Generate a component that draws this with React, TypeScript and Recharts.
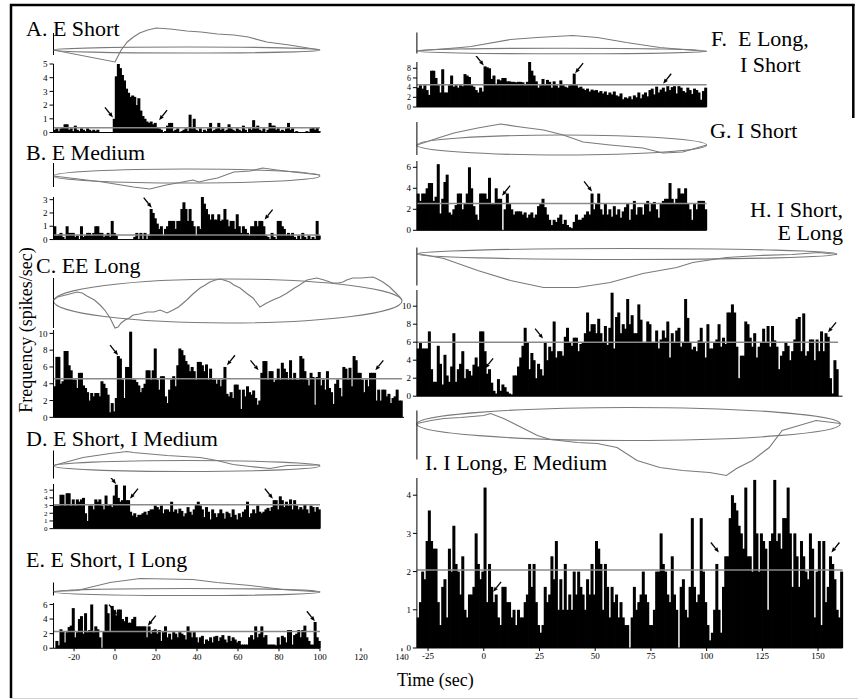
import React from 'react';
import { ComposedChart, Line, Bar, XAxis, YAxis, ReferenceLine, ReferenceArea, ReferenceDot } from 'recharts';

const SERIF = "'Liberation Serif', 'Times New Roman', Times, serif";
const START = -30;

// ---------- tick labels ----------
const LEFT_TICKS_SHORT = [-20, 0, 20, 40, 60, 80, 100];
const LEFT_TICKS_LONG = [-20, 0, 20, 40, 60, 80, 100, 120, 140];
const RIGHT_TICKS_SHORT = [-25, 0, 25, 50, 75, 100];
const RIGHT_TICKS_LONG = [-25, 0, 25, 50, 75, 100, 125, 150];

// ---------- histograms (1 s bins starting at -30 s) ----------
const A_HIST = [
  0.2,0.3,0.1,0.3,0.4,0.6,0.6,0.2,0.3,0.1,0.5,0.2,0.1,0.3,0.2,0.1,0.3,0.2,0.1,0.2,0.1,0.2,0,0,0,0,0,0,0,1.0,
  4.1,5.0,4.7,4.2,3.8,3.2,2.9,2.6,2.7,2.6,2.0,2.5,1.6,1.2,1.0,0.8,0.7,0.8,0.6,0.7,0.4,
  0.3,0.2,0,0.1,0.5,0.7,0.7,0.1,0.2,0.3, 0,0.1,0.2,0.3,0.1,1.3,0.3,1.0,0.2,0.1,
  0.3,0,0.2,0.1,0.3,0.7,0.1,0.2,0.3,0.7, 0.2,0.3,0.1,0.2,0.6,0.3,0.2,0.1,0.3,0.2,
  0.1,0.5,0.2,0,0.3,0.2,0.9,0.3,0.5,0.2, 0.1,0.3,0,0.2,0.7,0.5,0.5,0.2,0.3,0.1,
  0.2,0.1,0.3,0.7,0.2,0.3,0,0.1,0,0, 0,0,0.1,0,0.3,0.4,0.2,0.4,0.1,
];
const B_HIST = [
  1.0,0.3,0.4,0.5,0.2,0,1.0,0.5,0.5,0.5,0.2,0.3,0,1.0,0.2,0.3,0.5,0.5,0.3,0.5,1.0,1.0,0.5,0.5,0.2,0.3,0.5,0.2,1.4,0.5,
  0.3,0,0,0,0,0,0,0,0,0.2,0.5,0,0.5,0,0.5,0,0.3,
  2.3,2.0,1.6,1.2,0.8,1.0,0.3,0.8,1.0,1.4, 1.4,1.4,0.8,1.4,1.4,2.3,2.8,2.3,1.4,2.3,
  1.4,1.0,0.3,1.0,0.8,3.2,2.7,2.3,1.9,1.5, 1.9,1.5,1.5,1.9,1.4,1.5,2.3,1.5,1.0,1.4,
  1.4,0.8,1.9,1.0,0.5,1.0,0.8,0.5,0.3,1.0, 1.0,1.4,1.0,1.4,1.4,1.0,0.3,0.2,0,0.5,
  0.2,0,1.4,1.4,1.0,0.8,0.3,0.5,0.3,0.5, 0.2,0,0.3,0,0.5,0.2,0,0.3,0,0.2, 0,1.4,0.3,
];
const C_HIST = [
  3.7,7.2,7.2,4.0,4.3,7.9,7.9,6.2,5.6,4.5, 4.5,3.5,5.3,5.3,3.8,3.5,3.0,2.0,2.9,2.5,
  2.9,2.9,2.5,4.3,4.0,3.5,2.7,0.6,1.7,0.7, 2.3,7.3,7.0,4.5,2.3,6.0,6.0,10.2,4.5,4.5,
  4.2,3.8,3.0,3.5,4.0,5.6,5.6,4.5,5.6,8.2, 4.5,3.3,4.9,4.9,2.5,1.7,3.3,4.5,4.9,3.7,
  6.2,8.2,8.0,7.4,6.7,6.3,5.5,6.0,5.5,4.5, 6.6,6.6,6.2,5.5,6.3,4.5,5.8,4.5,4.5,4.0,
  4.5,3.7,4.5,6.0,2.8,2.5,3.0,2.3,3.9,3.9, 3.3,1.0,3.3,2.5,3.7,3.0,2.7,3.2,2.3,1.5,
  2.0,5.3,6.7,6.7,4.5,5.5,5.5,4.2,4.5,5.8, 4.5,6.5,5.8,5.4,4.5,6.8,4.5,5.3,4.5,4.5,
  7.3,7.0,5.5,4.5,3.8,5.3,4.8,1.5,4.8,5.4, 3.8,4.5,3.3,5.5,3.5,3.0,1.6,4.0,4.5,3.5,
  2.5,6.0,5.8,4.5,5.9,3.7,7.3,6.8,5.3,5.3, 4.5,3.0,4.5,3.7,5.3,5.3,5.3,2.0,3.3,2.0,
  3.3,3.3,2.5,2.8,1.7,2.3,2.5,3.3,2.0,2.0,
];
const D_HIST = [
  3.0,3.0,3.0,4.4,4.4,3.0,4.6,4.6,3.0,3.8, 3.0,3.8,3.5,3.8,4.0,2.0,1.0,3.0,3.0,2.5,
  3.8,3.5,3.8,3.0,2.5,4.3,3.0,3.1,2.8,4.3, 5.7,4.0,3.5,3.7,5.6,3.7,3.7,2.2,1.7,2.0,
  1.5,1.8,1.8,2.0,2.2,1.8,2.3,2.5,2.5,3.0, 2.8,2.5,3.0,2.0,2.5,2.5,2.2,3.5,2.2,2.5,
  2.0,2.6,2.3,1.6,2.0,2.8,2.2,1.8,2.5,3.2, 3.5,3.0,2.5,1.5,2.8,2.2,1.2,2.5,2.0,1.5,
  2.0,2.5,2.0,1.3,2.2,2.0,1.5,2.5,1.8,1.2, 2.0,1.5,2.2,2.5,3.5,1.5,2.0,2.5,2.0,3.0,
  2.2,2.0,2.2,2.5,2.7,2.3,2.8,3.7,3.7,2.5, 4.2,3.7,2.8,3.5,3.0,3.8,2.5,3.7,3.0,2.5,
  2.8,2.5,3.1,2.5,2.0,3.0,2.8,2.2,2.8,2.5,
];
const E_HIST = [
  0,1.0,0.4,2.6,2.3,0.8,2.2,2.9,3.1,5.5, 1.5,2.2,4.0,4.4,2.0,4.8,2.2,2.5,6.0,2.2,
  3.0,2.6,1.5,0,2.3,6.0,4.8,2.3,5.8,5.2, 4.5,5.3,5.3,4.0,3.7,4.3,3.5,3.5,4.0,4.3,
  3.0,3.0,3.0,3.0,3.0,1.5,3.0,2.0,2.5,2.6, 2.0,2.5,1.0,2.2,3.0,1.5,2.0,1.2,2.2,2.0,
  1.5,2.2,2.0,1.8,1.2,3.0,2.2,1.5,2.2,1.5, 0.8,1.5,1.7,0.6,1.2,1.0,1.5,0.8,1.6,1.7,
  1.0,1.5,1.8,1.2,0.8,1.7,1.0,1.5,1.2,0.8, 1.0,0.5,0.5,0.5,0.5,1.5,1.8,1.2,3.0,1.5,
  2.0,3.0,1.5,1.8,0.5,0.5,0.5,0.5,0.4,1.5, 0.5,1.7,1.5,0.8,2.5,2.5,0.5,1.8,2.0,2.5,
  1.5,2.5,3.1,1.5,1.0,0.5,0.5,3.6,1.5,1.0,
];
const F_HIST = [
  4.0,4.5,3.8,4.5,3.5,2.5,7.5,7.5,6.0,4.5, 3.0,7.8,3.0,3.0,4.5,6.5,4.2,4.5,4.0,4.5,
  4.3,6.8,6.5,6.2,4.5,4.2,3.5,3.0,4.0,3.2, 8.4,8.2,8.0,5.8,6.5,4.8,5.7,5.5,6.0,6.0,
  5.3,5.3,5.2,5.2,5.1,5.2,5.2,5.1,4.5,5.2, 9.3,7.5,6.5,5.3,4.0,4.5,5.8,4.5,5.6,5.2,
  4.0,5.3,4.5,4.0,5.5,4.5,4.2,4.0,4.5,4.6, 6.9,4.5,4.0,4.2,3.8,3.5,3.8,3.2,3.6,3.4,
  3.5,3.0,3.3,2.8,3.2,2.5,3.0,2.6,3.2,2.4, 2.2,2.8,1.6,2.0,1.8,2.2,1.6,2.4,2.0,3.0,
  1.8,2.6,3.0,2.2,3.5,3.8,2.6,4.2,3.0,3.6, 4.0,3.2,4.3,3.5,4.1,4.3,2.8,4.3,4.0,3.3,
  3.0,4.0,3.5,2.7,3.8,3.5,3.0,1.5,3.3,4.0,
];
const G_HIST = [
  3.5,2.8,3.5,3.5,4.0, 4.5,4.5,2.8,3.2,6.3, 1.6,3.0,4.6,5.3,1.7, 1.5,2.0,2.4,3.5,3.5,
  2.0,2.5,3.5,6.0,4.0, 2.3,1.5,1.0,3.5,3.5, 3.5,3.0,5.0,2.5,2.5, 4.0,3.0,3.0,0,2.0,
  3.5,2.5,2.0,1.5,1.8, 1.8,1.8,1.5,1.7,1.2, 1.5,1.7,1.2,1.5,2.3, 2.5,3.0,2.2,1.5,1.0,
  0.5,1.0,0.8,1.2,1.5, 0.6,1.0,0.5,0.3,0.2, 0.8,1.5,1.0,1.0,1.2, 1.5,1.8,1.5,3.5,2.0,
  2.5,3.5,2.0,1.5,2.5, 1.5,2.0,1.3,2.3,1.5, 2.0,1.2,1.8,2.2,2.5, 1.0,2.0,2.8,1.5,2.2,
  2.2,1.5,2.5,2.8,1.8, 2.5,2.7,2.0,1.2,2.5, 2.8,3.0,3.0,4.5,3.0, 2.5,3.0,4.0,3.5,3.5,
  4.0,2.5,2.0,1.0,2.5, 2.0,2.8,2.8,2.8,2.0,
];
const H_HIST = [
  5.3,6.0,5.3,5.3,5.3,7.2,3.0,1.6,1.6,5.6, 3.6,1.3,4.6,2.3,1.6,3.3,7.0,1.6,3.0,3.6,
  5.0,2.0,3.0,2.8,2.3,3.5,4.3,3.3,7.2,7.2, 5.0,2.5,3.0,1.5,0.6,0.3,1.9,0.6,1.3,1.0,
  0.5,0.3,0.2,2.3,2.3,3.3,4.3,5.6,7.6,6.0, 3.0,4.8,4.0,2.0,3.6,3.0,2.3,6.0,4.0,5.5,
  5.0,8.3,4.3,5.0,5.0,4.5,6.6,7.6,6.0,5.6, 6.5,6.5,5.0,5.8,6.0,7.0,9.3,7.2,8.0,8.0,
  7.0,8.6,7.0,6.0,7.8,5.7,7.6,11.5,5.3,8.8, 9.3,7.0,8.0,7.5,10.8,8.0,9.0,7.0,7.0,10.2,
  8.5,6.0,6.0,8.3,8.0,6.0,6.0,7.3,5.3,6.3, 7.3,6.5,8.3,4.3,7.0,6.0,7.3,7.6,5.5,6.0,
  10.8,8.7,6.0,5.2,5.5,5.0,6.2,7.6,6.0,4.3, 8.0,5.3,5.3,6.0,6.3,8.0,5.5,6.5,5.8,9.3,
  9.3,10.2,9.3,5.5,2.0,4.5,4.5,8.3,8.0,6.5, 5.5,7.0,4.3,5.5,6.0,7.5,6.0,7.8,5.5,7.8,
  6.2,5.5,3.0,4.5,5.0,6.0,5.6,4.0,5.0,6.3, 8.6,8.8,5.0,9.2,4.5,5.0,6.3,6.3,4.0,6.3,
  5.0,7.2,5.0,7.0,6.6,2.0,0.3,4.0,3.0,
];
const I_HIST = [
  0.8,1.2,2.0,1.8,2.8,3.6,2.8,2.6,2.6,1.2, 0.6,1.6,1.8,0.8,2.6,2.0,3.2,2.2,2.0,1.4,
  2.4,1.0,0.8,1.4,1.4,1.6,3.0,2.2,1.8,2.0, 4.2,1.2,2.2,1.6,1.2,1.4,0.8,0.6,1.6,1.6,
  1.2,1.2,0.8,1.0,0.6,1.0,0.8,0.8,1.2,1.4, 2.2,1.6,2.2,1.2,0.6,0.4,0.6,1.6,1.2,1.4,
  2.4,1.8,2.8,1.0,1.8,1.0,2.2,1.0,1.4,1.0, 2.0,1.4,2.0,1.6,1.4,1.0,1.8,1.4,2.2,1.4,
  2.8,2.6,2.2,1.0,2.2,1.6,0.8,1.6,1.2,1.4, 0.8,1.2,0.8,0.6,0.6,0,0.8,1.6,1.0,1.2,
  1.4,2.0,1.4,1.2,0.6,0.6,1.0,2.0,2.0,3.0, 2.2,2.0,1.4,1.2,2.4,1.4,1.0,0,1.6,1.8,
  1.0,0.8,1.6,3.4,1.6,1.2,1.4,3.4,2.0,1.2, 0.6,0.2,0.4,1.0,2.2,1.0,0.4,1.6,2.4,2.4,
  3.4,4.0,3.8,3.6,3.2,3.0,2.6,4.2,2.4,2.4, 2.0,4.4,3.0,2.0,3.0,2.8,2.6,1.0,2.8,3.0,
  4.4,2.8,3.0,2.6,3.4,3.4,4.2,3.0,1.6,3.0, 2.4,1.6,2.8,2.4,2.0,1.8,3.0,2.6,0.8,2.0,
  2.8,0.6,2.8,1.2,1.6,2.4,2.2,1.8,1.0,0.8, 2.0,
];

// ---------- respiratory traces [time, amplitude] ----------
const A_TRACE = [[-30,0],[0,-12],[1,-8],[3,0],[6,8],[9,13],[12,17],[16,20],[20,22],[27,21],[35,19],[42,18],[50,16],[58,15],[65,13],[74,8],[85,5],[100,0]];
const B_TRACE = [[-30,0],[-6,-6],[9,-11],[17,-13],[25,-9],[33,-6],[38,-4],[41,-6],[45,-4],[50,-2],[58,4],[66,5],[72,8],[79,6],[87,4],[100,1]];
const C_TRACE = [[-30,1],[-28,4],[-24,6],[-18.5,9],[-16,8],[-13.7,5],[-10,1],[-7.3,-4],[-5,-9],[-2.4,-17],[0,-27],[1.5,-26],[3,-22],[4.9,-19],[7,-17],[8.8,-14],[12,-13],[15.6,-11],[19,-11],[22,-9],[25.4,-12],[28.3,-9],[31,-6],[35,1],[38,7],[41.5,13],[44,16],[46.3,19],[49,21],[51.2,22],[53,21],[56,19],[58,16],[61,13],[64,8],[67.3,3],[70.7,-6],[74,-2],[77,1],[80.5,4],[84,8],[86.8,12],[90,16],[93.7,21],[96,22],[98.5,23],[102,21],[106.3,18],[109,18],[111.2,19],[113,21],[116,23],[120,23],[125.9,24],[128,22],[130.7,19],[134,14],[137,8],[139,4],[140,1]];
const D_TRACE = [[-30,0.5],[-15.6,8.5],[-2.4,12.5],[5.9,14.5],[8.8,13.5],[25.4,10.5],[41.5,8.5],[49.8,5.5],[57.6,1.5],[65.9,-0.5],[75.6,-2.5],[83.9,0.5],[100,1]];
const E_TRACE = [[-30,0.5],[-18.5,1.5],[-2.4,9.5],[12.2,13.5],[38,12.5],[49.8,9.5],[65.9,6.5],[82,2.5],[100,0]];
const F_TRACE = [[-30,0],[-10.3,3.5],[-5.8,4.5],[12,11.5],[24,13.5],[40,15.5],[51,13.5],[64,8.5],[79,3.5],[100,-0.5]];
const G_TRACE = [[-30,0],[-20.5,7],[-13.4,12],[-2.7,17],[7.6,21],[16.5,18],[26.8,15],[35.7,10],[44.6,3],[56.7,0],[71.4,-3],[80.4,-8],[89.3,-7],[100,0]];
const H_TRACE = [[-30,0.5],[-17.9,-4.5],[-2.7,-16.5],[12,-26.5],[26.8,-33.5],[34.4,-33.5],[42,-33.5],[56.7,-28.5],[71.4,-19.5],[86.6,-13.5],[93.8,-8.5],[108.9,-3.5],[123.7,-1.5],[138.4,-0.5],[150.4,1.5],[158.5,-0.5]];
const I_TRACE = [[-30,0.5],[-23.7,3.5],[-17.9,5.5],[-10.3,6.5],[0,8.5],[3.1,10.5],[8.9,5.5],[15.2,-1.5],[24.1,-11.5],[29.9,-15.5],[42,-18.5],[50.9,-19.5],[59.8,-23.5],[68.8,-36.5],[79,-43.5],[89.3,-46.5],[101.3,-48.5],[108.9,-51.5],[113.4,-44.5],[120.5,-36.5],[128.1,-23.5],[133.9,-6.5],[141.5,-1.5],[149.1,3.5],[160,0.5]];

// ---------- arrows [time, rate, side the arrow comes from] ----------
const A_ARROWS = [[-1, 1.1, 'L'], [21.5, 0.9, 'R']];
const B_ARROWS = [[17.9, 2.4, 'L'], [73, 1.5, 'R']];
const C_ARROWS = [[1.5, 7.4, 'L'], [54.6, 6.2, 'R'], [70, 5.6, 'L'], [127, 5.6, 'R']];
const D_ARROWS = [[0.5, 5.8, 'L'], [7.3, 3.9, 'R'], [77, 3.9, 'L']];
const E_ARROWS = [[1, 4.6, 'L'], [16, 3.1, 'R'], [97.5, 3.7, 'L']];
const F_ARROWS = [[0, 8.6, 'L'], [41, 7.0, 'R'], [80.5, 4.8, 'R']];
const G_ARROWS = [[8.2, 3.3, 'R'], [48.6, 3.7, 'L']];
const H_ARROWS = [[0.6, 3.1, 'R'], [26.6, 6.4, 'L'], [154.5, 7.1, 'R']];
const I_ARROWS = [[4.2, 1.47, 'R'], [105.5, 2.5, 'L'], [156, 2.5, 'R']];

// ---------- layout ----------
type Col = { x0: number; plotLeft: number; pps: number };
const LEFT: Col = { x0: 0, plotLeft: 53.5, pps: 2.05 };
const RIGHT: Col = { x0: 380, plotLeft: 416.9, pps: 2.2286 };
const YW = 30;
const GRAY = '#7a7a7a';

const PANELS: any[] = [
  { id: 'A', col: LEFT, xMax: 100, loopEnd: 100, trace: A_TRACE, values: A_HIST, arrows: A_ARROWS, xTicks: LEFT_TICKS_SHORT,
    wave: { cy: 50, lo: -14, hi: 24, ry: 3, axTop: 17, axBot: -5 },
    hist: { base: 132, ppu: 13.7, yMax: 5, yTicks: [0,1,2,3,4,5], ref: 0.35, end: 100, fs: 9 } },
  { id: 'B', col: LEFT, xMax: 100, loopEnd: 100, trace: B_TRACE, values: B_HIST, arrows: B_ARROWS, xTicks: LEFT_TICKS_SHORT,
    wave: { cy: 176, lo: -15, hi: 14, ry: 7, axTop: 13, axBot: -11 },
    hist: { base: 240, ppu: 13.3, yMax: 3.2, yTicks: [0,1,2,3], ref: 0.35, end: 100, fs: 9 } },
  { id: 'C', col: LEFT, xMax: 141, loopEnd: 140, trace: C_TRACE, values: C_HIST, arrows: C_ARROWS, xTicks: LEFT_TICKS_LONG,
    wave: { cy: 301, lo: -29, hi: 25, ry: 22, axTop: 23, axBot: -27 },
    hist: { base: 417, ppu: 8.4, yMax: 10.4, yTicks: [0,2,4,6,8,10], ref: 4.6, end: 140, fs: 9 } },
  { id: 'D', col: LEFT, xMax: 100, loopEnd: 100, trace: D_TRACE, values: D_HIST, arrows: D_ARROWS, xTicks: LEFT_TICKS_SHORT,
    wave: { cy: 465.5, lo: -13, hi: 16, ry: 5.5, axTop: 15.5, axBot: -12.5 },
    hist: { base: 529, ppu: 7.7, yMax: 5.8, yTicks: [0,1,2,3,4,5], ref: 3.1, end: 100, fs: 7 } },
  { id: 'E', col: LEFT, xMax: 141, loopEnd: 100, trace: E_TRACE, values: E_HIST, arrows: E_ARROWS, xTicks: LEFT_TICKS_LONG, axisEnd: 100, labels: true,
    wave: { cy: 591.5, lo: -5, hi: 15, ry: 3.5, axTop: 9.5, axBot: -3.5 },
    hist: { base: 648, ppu: 7.3, yMax: 6.2, yTicks: [0,2,4,6], ref: 2.3, end: 100, fs: 9 } },
  { id: 'F', col: RIGHT, xMax: 100, loopEnd: 100, trace: F_TRACE, values: F_HIST, arrows: F_ARROWS, xTicks: RIGHT_TICKS_SHORT,
    wave: { cy: 50.5, lo: -4, hi: 19, ry: 2.8, axTop: 18.5, axBot: -2.5 },
    hist: { base: 107, ppu: 5, yMax: 9, yTicks: [0,2,4,6,8], ref: 4.6, end: 100, fs: 8 } },
  { id: 'G', col: RIGHT, xMax: 100, loopEnd: 100, trace: G_TRACE, values: G_HIST, arrows: G_ARROWS, xTicks: RIGHT_TICKS_SHORT,
    wave: { cy: 145, lo: -11, hi: 24, ry: 10, axTop: 23, axBot: -10 },
    hist: { base: 230, ppu: 10.5, yMax: 6.6, yTicks: [0,2,4,6], ref: 2.55, end: 100, fs: 9 } },
  { id: 'H', col: RIGHT, xMax: 161, loopEnd: 158.5, trace: H_TRACE, values: H_HIST, arrows: H_ARROWS, xTicks: RIGHT_TICKS_LONG,
    wave: { cy: 253.5, lo: -35, hi: 7, ry: 5.5, axTop: 6.5, axBot: -31.5 },
    hist: { base: 396, ppu: 9.0, yMax: 11.8, yTicks: [0,2,4,6,8,10], ref: 6.0, end: 159, fs: 9 } },
  { id: 'I', col: RIGHT, xMax: 161, loopEnd: 160, trace: I_TRACE, values: I_HIST, arrows: I_ARROWS, xTicks: RIGHT_TICKS_LONG, labels: true,
    wave: { cy: 423.5, lo: -53, hi: 18, ry: 16.5, axTop: 13.5, axBot: -35.5 },
    hist: { base: 648, ppu: 38.2, yMax: 4.45, yTicks: [0,1,2,3,4], ref: 2.04, end: 161, fs: 9 } },
];

const ellipseShape = (p: any) => (
  <ellipse cx={p.x + p.width / 2} cy={p.y + p.height / 2} rx={Math.abs(p.width) / 2} ry={Math.abs(p.height) / 2}
    fill="none" stroke={GRAY} strokeWidth={1.1} />
);

const barShape = (p: any) => (
  <rect x={p.x - 0.2} y={p.y} width={Math.max(0, p.width) + 1.0} height={Math.max(0, p.height)} fill="#000" />
);

const arrowShape = (dir: string) => (p: any) => {
  const cx = p.cx, cy = p.cy;
  if (cx == null || cy == null) return <g />;
  const s = dir === 'L' ? -1 : 1;
  const tx = cx + s * 8, ty = cy - 10;
  const len = Math.hypot(cx - tx, cy - ty);
  const ux = (cx - tx) / len, uy = (cy - ty) / len;
  const bx = cx - ux * 5, by = cy - uy * 5;
  const nx = -uy * 2, ny = ux * 2;
  return (
    <g>
      <line x1={tx} y1={ty} x2={bx} y2={by} stroke="#000" strokeWidth={1.3} />
      <polygon points={`${cx},${cy} ${bx + nx},${by + ny} ${bx - nx},${by - ny}`} fill="#000" />
    </g>
  );
};

function Wave({ p }: { p: any }) {
  const { col, xMax, wave } = p;
  const ml = col.plotLeft - col.x0;
  const W = ml + (xMax - START) * col.pps + 2;
  const H = wave.hi - wave.lo;
  const data = p.trace.map((d: number[]) => ({ t: d[0], v: d[1] }));
  return (
    <div style={{ position: 'absolute', left: col.x0, top: wave.cy - wave.hi }}>
      <ComposedChart width={W} height={H} data={data} margin={{ top: 0, right: 2, bottom: 0, left: ml }}>
        <XAxis type="number" dataKey="t" domain={[START, xMax]} hide />
        <YAxis type="number" domain={[wave.lo, wave.hi]} hide />
        <ReferenceArea x1={START} x2={p.loopEnd} y1={-wave.ry} y2={wave.ry} ifOverflow="visible" shape={ellipseShape} />
        <ReferenceLine segment={[{ x: START, y: wave.axTop }, { x: START, y: wave.axBot }]} stroke="#000" strokeWidth={1} ifOverflow="visible" />
        <Line dataKey="v" type="linear" stroke={GRAY} strokeWidth={1.1} dot={false} isAnimationActive={false} />
      </ComposedChart>
    </div>
  );
}

function Hist({ p }: { p: any }) {
  const { col, xMax, hist } = p;
  const mr = p.labels ? 14 : 2;
  const ml = col.plotLeft - col.x0 - YW;
  const W = ml + YW + (xMax - START) * col.pps + mr;
  const plotH = hist.yMax * hist.ppu;
  const xh = p.labels ? 22 : 8;
  const H = 6 + plotH + xh;
  const data = p.values.map((v: number, i: number) => ({ t: START + i + 0.5, v }));
  const xTickStyle = { fill: '#000', fontSize: 9, fontFamily: SERIF };
  const yTickStyle = { fill: '#000', fontSize: hist.fs, fontFamily: SERIF };
  return (
    <div style={{ position: 'absolute', left: col.x0, top: hist.base - plotH - 6 }}>
      <ComposedChart width={W} height={H} data={data} margin={{ top: 6, right: mr, bottom: 0, left: ml }} barCategoryGap={0} barGap={0}>
        <XAxis type="number" dataKey="t" domain={[START, xMax]} ticks={p.xTicks} interval={0} height={xh}
          tickSize={3} tickMargin={2} stroke="#000" axisLine={p.axisEnd === undefined}
          tick={p.labels ? xTickStyle : false} />
        <YAxis type="number" domain={[0, hist.yMax]} ticks={hist.yTicks} interval={0} width={YW}
          tickSize={4} tickMargin={2} stroke="#000" tick={yTickStyle} />
        <Bar dataKey="v" fill="#000" isAnimationActive={false} shape={barShape} />
        <ReferenceLine segment={[{ x: START, y: hist.ref }, { x: hist.end, y: hist.ref }]} stroke="#8a8a8a" strokeWidth={1.5} ifOverflow="visible" />
        {p.axisEnd !== undefined && (
          <ReferenceLine segment={[{ x: START, y: 0 }, { x: p.axisEnd, y: 0 }]} stroke="#000" strokeWidth={1} ifOverflow="visible" />
        )}
        {p.arrows.map((a: any[], i: number) => (
          <ReferenceDot key={i} x={a[0]} y={a[1]} r={1} ifOverflow="visible" shape={arrowShape(a[2])} />
        ))}
      </ComposedChart>
    </div>
  );
}

const TITLES: any[] = [
  { text: 'A. E Short', x: 26, y: 36, anchor: 'start' },
  { text: 'B. E Medium', x: 26, y: 160, anchor: 'start' },
  { text: 'C. EE Long', x: 36, y: 273, anchor: 'start' },
  { text: 'D. E Short, I Medium', x: 26, y: 446, anchor: 'start' },
  { text: 'E. E Short, I Long', x: 26, y: 567, anchor: 'start' },
  { text: 'F.  E Long,', x: 711, y: 46, anchor: 'start' },
  { text: 'I Short', x: 740, y: 72, anchor: 'start' },
  { text: 'G. I Short', x: 710, y: 138, anchor: 'start' },
  { text: 'H. I Short,', x: 843, y: 217, anchor: 'end' },
  { text: 'E Long', x: 843, y: 240, anchor: 'end' },
  { text: 'I. I Long, E Medium', x: 425, y: 470, anchor: 'start' },
];

export default function App() {
  return (
    <div style={{ position: 'absolute', left: 0, top: 0, width: 858, height: 700, background: '#fff', overflow: 'hidden' }}>
      {PANELS.map((p) => (
        <React.Fragment key={p.id}>
          <Wave p={p} />
          <Hist p={p} />
        </React.Fragment>
      ))}
      <svg width={858} height={700} style={{ position: 'absolute', left: 0, top: 0, pointerEvents: 'none' }}>
        <line x1={10} y1={5} x2={854.5} y2={5} stroke="#000" strokeWidth={2.5} />
        <line x1={11} y1={4} x2={11} y2={698} stroke="#000" strokeWidth={2.5} />
        <line x1={853.3} y1={4} x2={853.3} y2={118} stroke="#000" strokeWidth={2.5} />
        <line x1={10} y1={698.5} x2={858} y2={698.5} stroke="#d4d4d4" strokeWidth={1} />
        {TITLES.map((t, i) => (
          <text key={i} x={t.x} y={t.y} textAnchor={t.anchor} fontFamily={SERIF} fontSize={22} fill="#000" style={{ whiteSpace: 'pre' }}>
            {t.text}
          </text>
        ))}
        <text x={32} y={330} transform="rotate(-90 32 330)" textAnchor="middle" fontFamily={SERIF} fontSize={18} fill="#000">
          Frequency (spikes/sec)
        </text>
        <text x={397} y={686} fontFamily={SERIF} fontSize={18} fill="#000">Time (sec)</text>
      </svg>
    </div>
  );
}
